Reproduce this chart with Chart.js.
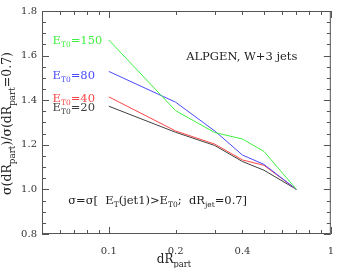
<!DOCTYPE html>
<html><head><meta charset="utf-8">
<script src="https://cdn.jsdelivr.net/npm/chart.js@4"></script>
<style>html,body{margin:0;padding:0;background:#fff}#wrap{width:345px;height:268px}</style>
</head><body><div id="wrap"><canvas id="c" width="345" height="268"></canvas></div>
<script>
const dR = [0.1, 0.2, 0.3, 0.4, 0.5, 0.7];
const et150 = [1.670, 1.353, 1.255, 1.226, 1.170, 1.0];
const et80 = [1.529, 1.391, 1.262, 1.154, 1.112, 1.0];
const et40 = [1.415, 1.262, 1.203, 1.132, 1.108, 1.0];
const et20 = [1.373, 1.256, 1.197, 1.125, 1.086, 1.0];
const yTicks = [0.8, 1.0, 1.2, 1.4, 1.6, 1.8];
const xTickLabels = [0.1, 0.2, 0.4, 1];
const xMinorTicks = [0.05,0.06,0.07,0.08,0.09,0.1,0.2,0.3,0.4,0.5,0.6,0.7,0.8,0.9,1];
const seriesNames = ['150','80','40','20'];
const colors = ['#40f040','#4a4aff','#ff4545','#404040'];

const SERIF = '"DejaVu Serif", "Liberation Serif", serif';
function pts(arr){ return dR.map((x,i)=>({x:x,y:arr[i]})); }

function drawRich(ctx, segs, x, y, size, color, subScale){
  const ss = subScale || 0.7;
  ctx.save();
  ctx.fillStyle = color;
  ctx.textBaseline = 'alphabetic';
  ctx.textAlign = 'left';
  let cx = x;
  for (const s of segs){
    const fs = s.sub ? size*ss : size;
    ctx.font = fs + 'px ' + SERIF;
    ctx.fillText(s.t, cx, y + (s.sub ? size*0.3 : 0));
    cx += ctx.measureText(s.t).width;
  }
  ctx.restore();
  return cx - x;
}
function richWidth(ctx, segs, size, subScale){
  const ss = subScale || 0.7;
  let w = 0;
  ctx.save();
  for (const s of segs){ ctx.font = (s.sub?size*ss:size)+'px '+SERIF; w += ctx.measureText(s.t).width; }
  ctx.restore();
  return w;
}

const framePlugin = {
  id:'frame',
  afterDatasetsDraw(chart){
    const ctx = chart.ctx, a = chart.chartArea;
    const xs = chart.scales.x, ys = chart.scales.y;
    ctx.save();
    ctx.strokeStyle = '#555';
    ctx.lineWidth = 1;
    ctx.strokeRect(a.left+0.5, a.top+0.5, a.right-a.left-1, a.bottom-a.top-1);
    ctx.beginPath();
    for (let v=0.8; v<=1.8001; v+=0.05){
      const p = Math.round(ys.getPixelForValue(v))+0.5;
      const major = Math.abs(v*5 - Math.round(v*5)) < 1e-6;
      const L = major ? 7 : 4;
      ctx.moveTo(a.left, p); ctx.lineTo(a.left+L, p);
      ctx.moveTo(a.right, p); ctx.lineTo(a.right-L, p);
    }
    for (const v of xMinorTicks){
      const p = Math.round(xs.getPixelForValue(v))+0.5;
      const major = (v===0.1 || v===1);
      const L = major ? 7 : 4;
      ctx.moveTo(p, a.bottom); ctx.lineTo(p, a.bottom-L);
      ctx.moveTo(p, a.top); ctx.lineTo(p, a.top+L);
    }
    ctx.stroke();
    ctx.restore();

    // series labels
    const labelY = [1.653, 1.497, 1.394, 1.353];
    const lx = xs.getPixelForValue(0.0558);
    seriesNames.forEach((n,i)=>{
      drawRich(ctx, [{t:'E'},{t:'T0',sub:true},{t:'='+n}], lx, ys.getPixelForValue(labelY[i]), 11.5, colors[i], 0.65);
    });
    drawRich(ctx, [{t:'ALPGEN, W+3 jets'}], xs.getPixelForValue(0.223), ys.getPixelForValue(1.580), 11.5, '#222');
    drawRich(ctx, [{t:'σ=σ[  E'},{t:'T',sub:true},{t:'(jet1)>E'},{t:'T0',sub:true},{t:';  dR'},{t:'jet',sub:true},{t:'=0.7]'}],
      xs.getPixelForValue(0.0656), ys.getPixelForValue(0.935), 11.5, '#222', 0.65);

    // x title
    const xt = [{t:'dR'},{t:'part',sub:true}];
    const xw = richWidth(ctx, xt, 12);
    drawRich(ctx, xt, 174 - xw/2, 263, 12, '#222');
    // y title
    const yt = [{t:'σ(dR'},{t:'part',sub:true},{t:')/σ(dR'},{t:'part',sub:true},{t:'=0.7)'}];
    ctx.save();
    ctx.translate(11, (a.top+a.bottom)/2 + 1);
    ctx.rotate(-Math.PI/2);
    const yw = richWidth(ctx, yt, 12.5);
    drawRich(ctx, yt, -yw/2, 0, 12.5, '#222');
    ctx.restore();
  }
};

new Chart(document.getElementById('c'), {
  type:'line',
  data:{ datasets:[et150, et80, et40, et20].map((arr,i)=>({
    label:'E_T0='+seriesNames[i], data:pts(arr), borderColor:colors[i], borderWidth:1,
    pointRadius:0, fill:false, tension:0
  }))},
  options:{
    responsive:false, animation:false, devicePixelRatio:1,
    layout:{padding:{top:4,right:3,left:0,bottom:0}},
    plugins:{legend:{display:false}, tooltip:{enabled:false}},
    scales:{
      x:{type:'logarithmic', min:0.05, max:1,
        grid:{display:false, drawTicks:false}, border:{display:false},
        afterBuildTicks(s){ s.ticks = xMinorTicks.map(v=>({value:v})); },
        afterFit(s){ s.height = 34; },
        ticks:{autoSkip:false, maxRotation:0, padding:11, color:'#333',
          font:{family:SERIF, size:10},
          callback(v){ return xTickLabels.includes(Number(v)) ? String(v) : ''; }}
      },
      y:{min:0.8, max:1.8,
        grid:{display:false, drawTicks:false}, border:{display:false},
        afterBuildTicks(s){ s.ticks = yTicks.map(v=>({value:v})); },
        afterFit(s){ s.width = 42; },
        ticks:{padding:5, color:'#333', font:{family:SERIF, size:10},
          callback(v){ return Number(v).toFixed(1); }}
      }
    }
  },
  plugins:[framePlugin]
});
</script></body></html>
